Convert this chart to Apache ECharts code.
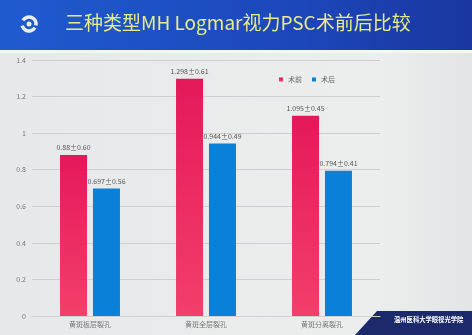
<!DOCTYPE html>
<html><head><meta charset="utf-8">
<script src="https://cdn.jsdelivr.net/npm/echarts@6/dist/echarts.min.js"></script>
<style>html,body{margin:0;padding:0;background:#e8eaeb}#c{width:472px;height:335px}</style>
</head><body><div id="c"></div>
<script>
var categories = ['黄斑板层裂孔', '黄斑全层裂孔', '黄斑分离裂孔'];
var seriesNames = ['术前', '术后'];
var preValues = [0.88, 1.298, 1.095];
var preSD = ['0.60', '0.61', '0.45'];
var postValues = [0.697, 0.944, 0.794];
var postSD = ['0.56', '0.49', '0.41'];
var yTicks = [0, 0.2, 0.4, 0.6, 0.8, 1, 1.2, 1.4];
var titleText = '三种类型MH Logmar视力PSC术前后比较';
var badgeText = '温州医科大学眼视光学院';

var chart = echarts.init(document.getElementById('c'), null, {renderer: 'canvas'});
var font = '"Noto Sans CJK SC", "Noto Sans", sans-serif';
function mkLabel(vals, sds) {
  return function (p) { return vals[p.dataIndex] + '±' + sds[p.dataIndex]; };
}
chart.setOption({
  backgroundColor: {
    type: 'linear', x: 0, y: 0, x2: 1, y2: 0,
    colorStops: [{offset: 0, color: '#e6e8e9'}, {offset: 0.8, color: '#eceeee'}, {offset: 1, color: '#e2e4e5'}]
  },
  animation: false,
  graphic: [
    {type: 'rect', shape: {x: 0, y: 0, width: 472, height: 50},
     style: {fill: {type: 'linear', x: 0, y: 0, x2: 1, y2: 0,
       colorStops: [{offset: 0, color: '#1f5bcf'}, {offset: 0.6, color: '#1c48bc'}, {offset: 1, color: '#1a379f'}]}}},
    {type: 'rect', shape: {x: 0, y: 50, width: 472, height: 3}, style: {fill: '#f4f6f8'}},
    {type: 'arc', shape: {cx: 29, cy: 24, r: 7, startAngle: -2.6, endAngle: 0.2}, style: {fill: 'none', stroke: '#e8edf6', lineWidth: 3.5}},
    {type: 'arc', shape: {cx: 29, cy: 24, r: 7, startAngle: 0.55, endAngle: 2.9}, style: {fill: 'none', stroke: '#e8edf6', lineWidth: 3.5}},
    {type: 'circle', shape: {cx: 29, cy: 24, r: 2.5}, style: {fill: '#e8edf6'}},
    {type: 'text', left: 65, top: 13,
     style: {text: titleText, fill: '#e6eb8c', font: '19px ' + font}},
    {type: 'polygon', shape: {points: [[355, 335], [377, 311], [472, 311], [472, 335]]},
     style: {fill: '#1c2a6c'}},
    {type: 'text', left: 394, top: 316,
     style: {text: badgeText, fill: '#ffffff', font: 'bold 6.3px ' + font}}
  ],
  legend: {
    data: seriesNames, left: 274, top: 71, itemWidth: 4, itemHeight: 4, icon: 'rect', itemGap: 10,
    textStyle: {fontSize: 7, color: '#666', fontFamily: font}
  },
  grid: {left: 32, right: 92, top: 60, bottom: 19, containLabel: false},
  xAxis: {
    type: 'category', data: categories,
    axisLine: {lineStyle: {color: '#cfd2d4'}}, axisTick: {show: false},
    axisLabel: {fontSize: 7, color: '#777', margin: 5, fontFamily: font}
  },
  yAxis: {
    type: 'value', min: yTicks[0], max: yTicks[yTicks.length - 1], interval: 0.2,
    axisLine: {show: false}, axisTick: {show: false},
    axisLabel: {fontSize: 7, color: '#777', margin: 6, fontFamily: font,
      formatter: function (v) { return +v.toFixed(1) + ''; }},
    splitLine: {lineStyle: {color: '#cdd0d2', width: 1}}
  },
  series: [
    {name: seriesNames[0], type: 'bar', data: preValues, barWidth: 27, barGap: '22%',
     itemStyle: {color: {type: 'linear', x: 0, y: 0, x2: 0, y2: 1,
       colorStops: [{offset: 0, color: '#e5185a'}, {offset: 1, color: '#f23f6b'}]}},
     label: {show: true, position: 'top', distance: 4, fontSize: 7, color: '#555', fontFamily: font,
       formatter: mkLabel(preValues, preSD)}},
    {name: seriesNames[1], type: 'bar', data: postValues, barWidth: 27,
     itemStyle: {color: '#0a80d8'},
     label: {show: true, position: 'top', distance: 4, fontSize: 7, color: '#555', fontFamily: font,
       formatter: mkLabel(postValues, postSD)}}
  ],
  color: ['#e5185a', '#0a80d8']
});
</script></body></html>
